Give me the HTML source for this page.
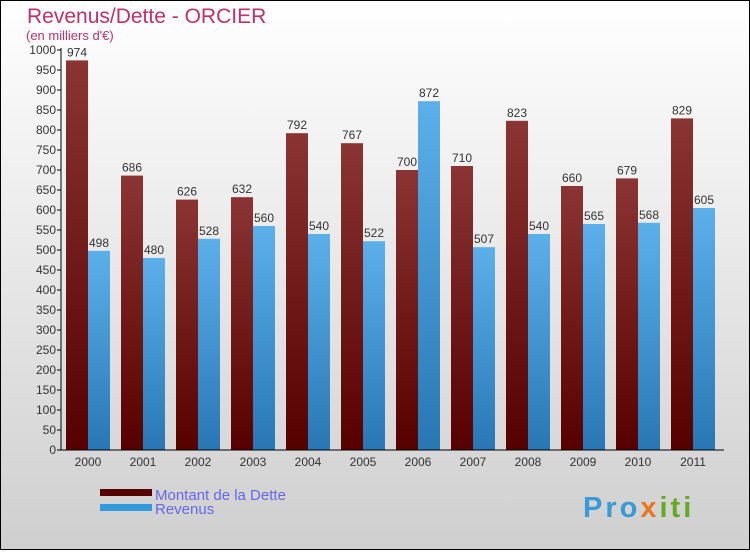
<!DOCTYPE html>
<html><head><meta charset="utf-8"><style>
html,body{margin:0;padding:0}
body{width:750px;height:550px;overflow:hidden;font-family:"Liberation Sans",sans-serif}
</style></head><body>
<svg id="c" width="750" height="550" xmlns="http://www.w3.org/2000/svg">
<defs>
<linearGradient id="bg" x1="0" y1="0" x2="0" y2="1"><stop offset="0" stop-color="#ffffff"/><stop offset="1" stop-color="#cfcfcf"/></linearGradient>
<linearGradient id="gd" x1="0" y1="0" x2="0" y2="1"><stop offset="0" stop-color="#8a3434"/><stop offset="1" stop-color="#560000"/></linearGradient>
<linearGradient id="gr" x1="0" y1="0" x2="0" y2="1"><stop offset="0" stop-color="#5cb0ea"/><stop offset="1" stop-color="#2877b4"/></linearGradient>
</defs>
<rect x="0.5" y="0.5" width="749" height="549" fill="url(#bg)" stroke="#000"/>
<text x="27" y="23" font-size="21" fill="#c0306a">Revenus/Dette - ORCIER</text>
<text x="26" y="40" font-size="13" fill="#c0306a">(en milliers d'€)</text>
<g id="plot"></g>
<rect x="100" y="489" width="52" height="7" fill="#560000"/>
<text x="155" y="500" font-size="15" fill="#6666ee">Montant de la Dette</text>
<rect x="100" y="504" width="52" height="7" fill="#3399dd"/>
<text x="155" y="514" font-size="15" fill="#6666ee">Revenus</text>
<text x="583" y="517" font-size="29" font-weight="bold" letter-spacing="3" fill="#3a9ad8">Pro<tspan fill="#e87820">x</tspan><tspan fill="#66aa22">iti</tspan></text>
</svg>
<script>
const years=["2000","2001","2002","2003","2004","2005","2006","2007","2008","2009","2010","2011"];
const dette=[974,686,626,632,792,767,700,710,823,660,679,829];
const revenus=[498,480,528,560,540,522,872,507,540,565,568,605];
const yTicks=[0,50,100,150,200,250,300,350,400,450,500,550,600,650,700,750,800,850,900,950,1000];
const NS="http://www.w3.org/2000/svg";
const g=document.getElementById('plot');
const y0=450,yScale=0.4,x0=62,gw=55;
const Y=v=>y0-v*yScale;
const X=i=>x0+4+i*gw;
function el(t,a){const e=document.createElementNS(NS,t);for(const k in a)e.setAttribute(k,a[k]);g.appendChild(e);return e;}
yTicks.forEach(v=>{
 const t=el('line',{x1:57,x2:61,y1:Y(v),y2:Y(v),stroke:'#000'});
 
 
 const l=el('text',{x:56,y:Y(v)+4,'font-size':12,'text-anchor':'end',fill:'#333'});
 l.textContent=v;
 
 
});
years.forEach((yr,i)=>{
 const x=X(i);
 const d=el('rect',{x:x,y:Y(dette[i]),width:22,height:dette[i]*yScale,fill:'url(#gd)'});
 
 
 const r=el('rect',{x:x+22,y:Y(revenus[i]),width:22,height:revenus[i]*yScale,fill:'url(#gr)'});
 
 
 const dl=el('text',{x:x+11,y:Y(dette[i])-4,'font-size':12,'text-anchor':'middle',fill:'#333'});
 dl.textContent=dette[i];
 
 
 const rl=el('text',{x:x+33,y:Y(revenus[i])-4,'font-size':12,'text-anchor':'middle',fill:'#333'});
 rl.textContent=revenus[i];
 
 
 const xl=el('text',{x:x+22,y:466,'font-size':12,'text-anchor':'middle',fill:'#333'});
 xl.textContent=yr;
 
 
});
const ya=el('line',{x1:61,x2:61,y1:48,y2:450,stroke:'#000'});


const xa=el('line',{x1:61,x2:724,y1:450,y2:450,stroke:'#000'});


</script>
</body></html>
